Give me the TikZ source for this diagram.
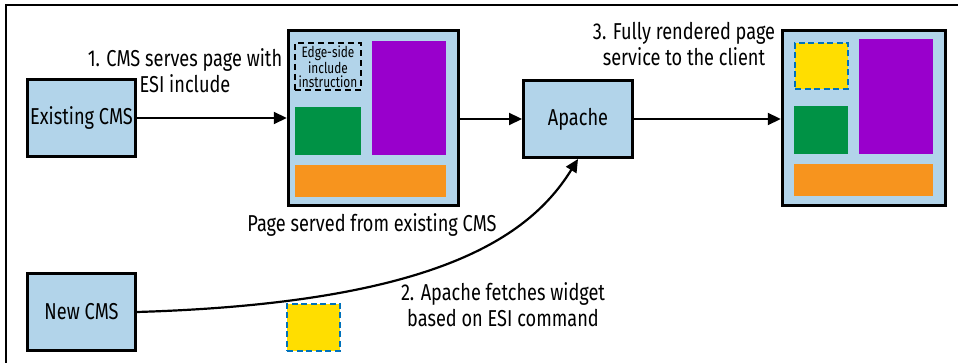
\documentclass[tikz,border=0pt]{standalone}
\usepackage{fontspec}
\setmainfont{Fira Sans}[FakeStretch=0.79]
\usetikzlibrary{arrows.meta}
\definecolor{boxblue}{RGB}{178,212,234}
\definecolor{wpurple}{RGB}{153,0,204}
\definecolor{wgreen}{RGB}{0,146,69}
\definecolor{worange}{RGB}{247,148,30}
\definecolor{wyellow}{RGB}{255,222,0}
\definecolor{wdash}{RGB}{0,114,188}
\tikzset{
  box/.style={draw=black, line width=3pt, fill=boxblue, inner sep=0pt,
    font=\fontsize{23}{26}\selectfont},
  pagebox/.style={draw=black, line width=3.5pt, fill=boxblue, inner sep=0pt},
  lbl/.style={font=\fontsize{23}{26}\selectfont, align=center, inner sep=0pt},
  arr/.style={line width=2.2pt, -{Triangle[length=13pt,width=12pt]}},
  esibox/.style={draw=black, line width=2.8pt, dash pattern=on 6pt off 4pt, inner sep=0pt,
    font=\fontsize{15}{14}\selectfont, align=center},
  widget/.style={draw=wdash, fill=wyellow, line width=2.2pt, dash pattern=on 6pt off 3.5pt, inner sep=0pt},
}
\begin{document}
\begin{tikzpicture}[x=1pt,y=-1pt]
\useasboundingbox (0,0) rectangle (959,363);
\draw[line width=1.5pt] (6,363) -- (6,5) -- (958,5);

% nodes
\node[box, minimum width=108pt, minimum height=77pt] (exist) at (81.5,118) {Existing CMS};
\node[box, minimum width=108pt, minimum height=77pt] (newcms) at (81.5,312) {New CMS};
\node[box, minimum width=109pt, minimum height=77pt] (apache) at (578,119) {Apache};
\node[pagebox, minimum width=170pt, minimum height=175pt] (page1) at (373.5,118) {};
\node[pagebox, minimum width=163pt, minimum height=175pt] (page2) at (864,118) {};

% page 1 contents
\node[esibox, minimum width=66pt, minimum height=47pt] (esi) at (328,66.5) {Edge-side\\include\\instruction};
\fill[wpurple] (372,41) rectangle (446,155);
\fill[wgreen] (295,107) rectangle (361,155);
\fill[worange] (295,165) rectangle (446,197);

% page 2 contents
\node[widget, minimum width=53pt, minimum height=46pt] (w2) at (821.5,66) {};
\fill[wpurple] (859,39) rectangle (933,154);
\fill[wgreen] (794,106) rectangle (848,154);
\fill[worange] (794,164) rectangle (933,196);

% loose widget
\node[widget, minimum width=53pt, minimum height=47pt] (w1) at (313.5,327.5) {};

% connectors
\draw[arr] (exist.east) -- (page1.west |- exist.east);
\draw[arr] (page1.east |- apache.west) -- (apache.west);
\draw[arr] (apache.east) -- (page2.west |- apache.east);
\draw[arr] (newcms.east) .. controls (437,303) and (530,236.5) .. (apache.south);

% labels
\node[lbl] (l1) at (185,71) {1. CMS serves page with\\ESI include};
\node[lbl] (l3) at (684,44) {3. Fully rendered page\\service to the client};
\node[lbl] (l2) at (503,305) {2. Apache fetches widget\\based on ESI command};
\node[lbl, anchor=base] (lp) at (372,232) {Page served from existing CMS};
\end{tikzpicture}
\end{document}
